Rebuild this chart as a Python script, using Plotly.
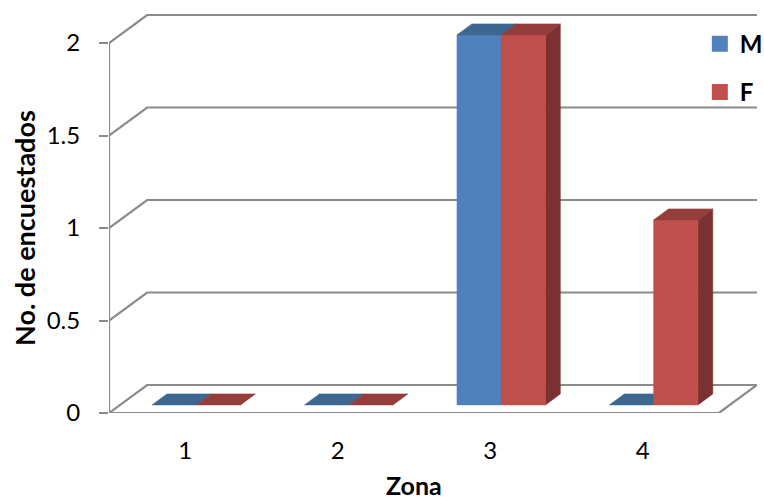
import plotly.graph_objects as go

# ---------------- data ----------------
categories = [1, 2, 3, 4]
category_labels = ["1", "2", "3", "4"]
series_names = ["M", "F"]
values_M = [0, 0, 2, 0]
values_F = [0, 0, 2, 1]
y_ticks = [0, 0.5, 1, 1.5, 2]
y_tick_labels = ["0", "0.5", "1", "1.5", "2"]
x_title = "Zona"
y_title = "No. de encuestados"

# ---------------- style / 3D projection ----------------
DX = 0.25      # horizontal shift (category units) for full depth
DY = 0.1514    # vertical shift (value units) for full depth
D0, D1 = 0.29, 0.68   # bar front / back depth fraction
BAR_W = 0.29
X_LO, X_HI = 0.5, 4.5
GRID = "#8a8a8a"
FONT = "Lato"

colors = {
    "M": {"front": "#4f81bd", "top": "#3d6691", "side": "#2f4f73"},
    "F": {"front": "#c0504d", "top": "#953d3b", "side": "#7b3131"},
}
offsets = {"M": -BAR_W, "F": 0.0}
series_vals = {"M": values_M, "F": values_F}


def proj(x, y, d):
    return x + d * DX, y + d * DY


fig = go.Figure()


def add_line(pts):
    xs, ys = zip(*pts)
    fig.add_trace(go.Scatter(x=list(xs), y=list(ys), mode="lines",
                             line=dict(color=GRID, width=2.2),
                             hoverinfo="skip", showlegend=False))


def add_poly(pts, color):
    xs, ys = zip(*pts)
    fig.add_trace(go.Scatter(x=list(xs) + [xs[0]], y=list(ys) + [ys[0]],
                             mode="lines", fill="toself", fillcolor=color,
                             line=dict(color=color, width=0.6),
                             hoverinfo="skip", showlegend=False))


# walls: gridlines on side wall + back wall
for v in y_ticks:
    add_line([proj(X_LO, v, 0), proj(X_LO, v, 1), proj(X_HI, v, 1)])
# floor front edge and right edge
add_line([proj(X_LO, 0, 0), proj(X_HI, 0, 0), proj(X_HI, 0, 1)])
# vertical value axis (front)
add_line([proj(X_LO, 0, 0), proj(X_LO, max(y_ticks), 0)])

# bars
for i, c in enumerate(categories):
    for s in series_names:
        v = series_vals[s][i]
        x0 = c + offsets[s]
        x1 = x0 + BAR_W
        col = colors[s]
        if v > 0:
            add_poly([proj(x1, 0, D0), proj(x1, 0, D1), proj(x1, v, D1), proj(x1, v, D0)], col["side"])
            add_poly([proj(x0, 0, D0), proj(x1, 0, D0), proj(x1, v, D0), proj(x0, v, D0)], col["front"])
        add_poly([proj(x0, v, D0), proj(x1, v, D0), proj(x1, v, D1), proj(x0, v, D1)], col["top"])

# legend entries
for k, s in enumerate(series_names):
    fig.add_trace(go.Scatter(x=[None], y=[None], mode="markers", name=s,
                             legendgroup=s,
                             marker=dict(symbol="square", size=16, color=colors[s]["front"]),
                             showlegend=True))

W, H = 764, 502
L, R, T, B = 109, 7, 13, 89
plot_h = H - T - B
y_top = plot_h / 185.0
x_right = X_HI + DX

fig.update_layout(
    width=W, height=H,
    margin=dict(l=L, r=R, t=T, b=B, pad=0, autoexpand=False),
    paper_bgcolor="white", plot_bgcolor="white",
    font=dict(family=FONT, color="#000000", size=24),
    xaxis=dict(range=[X_LO, x_right], showgrid=False, zeroline=False, showline=False,
               tickmode="array", tickvals=categories, ticktext=category_labels,
               ticks="", ticklabelstandoff=21, tickfont=dict(size=24, family=FONT),
               automargin=False, fixedrange=True),
    yaxis=dict(range=[0, y_top], showgrid=False, zeroline=False, showline=False,
               tickmode="array", tickvals=y_ticks, ticktext=y_tick_labels,
               ticks="outside", ticklen=9, tickwidth=2, tickcolor=GRID,
               ticklabelstandoff=14, tickfont=dict(size=24, family=FONT),
               automargin=False, fixedrange=True),
    legend=dict(xref="container", yref="container", x=0.916, xanchor="left",
                y=0.957, yanchor="top",
                font=dict(size=24, family=FONT, weight="bold"),
                tracegroupgap=14, bgcolor="rgba(0,0,0,0)",
                itemclick=False, itemdoubleclick=False),
    showlegend=True,
    annotations=[
        dict(text=x_title, x=(X_LO + X_HI) / 2, xref="x", y=(413 - 502) / plot_h, yref="paper",
             xanchor="center", yanchor="bottom", showarrow=False,
             font=dict(size=25, family=FONT, weight="bold")),
        dict(text=y_title, x=-(109 - 24) / (W - L - R), xref="paper", y=max(y_ticks) / 2, yref="y",
             xanchor="center", yanchor="middle", textangle=-90, showarrow=False,
             font=dict(size=27, family=FONT, weight="bold")),
    ],
)

fig.write_html("out.html", config={"displayModeBar": False},
               post_script="document.body.style.margin='0';document.documentElement.style.overflow='hidden';")
